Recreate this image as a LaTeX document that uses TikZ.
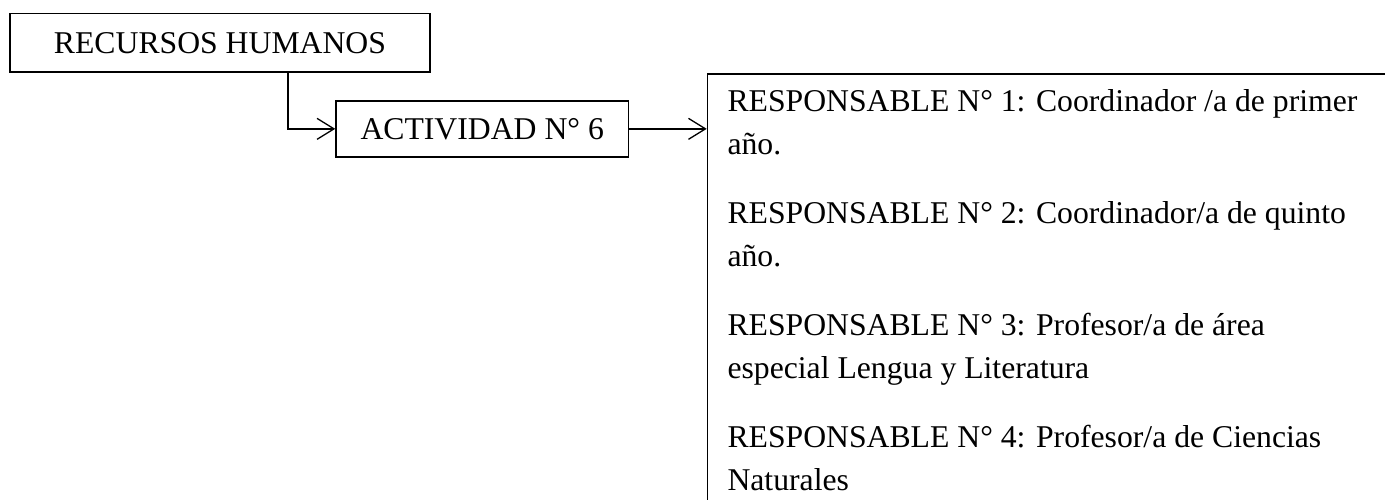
\documentclass[tikz,border=0pt]{standalone}
\usepackage{fontspec}
\setmainfont{Liberation Serif}
\usetikzlibrary{arrows.meta}
\tikzset{
	caja/.style={
			draw, line width=1.6pt, inner sep=0pt,
			text height=21pt, text depth=0pt
		},
	flecha/.style={
			line width=1.3pt,
			-{Straight Barb[length=17pt, width=21pt, line width=1.3pt]}
		},
	renglon/.style={anchor=base west, inner sep=0pt}
}

\begin{document}
\begin{tikzpicture}[x=1pt, y=-1pt, font=\fontsize{31.7}{43}\selectfont]
	\path[use as bounding box, clip] (0, 0) rectangle (1385, 499);

	\node[caja, minimum width=420pt, minimum height=58.4pt] (rrhh) at (220, 42.5) {RECURSOS HUMANOS};
	\node[caja, minimum width=292.3pt, minimum height=55.7pt] (actividad) at (482.2, 128.85) {ACTIVIDAD N° 6};
	\node[caja, anchor=north west, minimum width=800pt, minimum height=500pt] (responsables) at (706.7, 73.3) {};

	\coordinate (salida) at (241, 72.5);
	\coordinate (codo) at (288, 72.5);
	\draw[flecha] (salida) -- (codo) |- (actividad.west);
	\draw[flecha] (actividad.east) -- (actividad.east -| responsables.west);

	\node[renglon] (r1) at (727.3, 111) {RESPONSABLE N° 1: Coordinador /a de primer};
	\node[renglon] (r2) at (727.3, 154) {año.};
	\node[renglon] (r3) at (727.3, 223) {RESPONSABLE N° 2: Coordinador/a de quinto};
	\node[renglon] (r4) at (727.3, 266) {año.};
	\node[renglon] (r5) at (727.3, 335) {RESPONSABLE N° 3: Profesor/a de área};
	\node[renglon] (r6) at (727.3, 378) {especial Lengua y Literatura};
	\node[renglon] (r7) at (727.3, 447) {RESPONSABLE N° 4: Profesor/a de Ciencias};
	\node[renglon] (r8) at (727.3, 490) {Naturales};
\end{tikzpicture}
\end{document}
